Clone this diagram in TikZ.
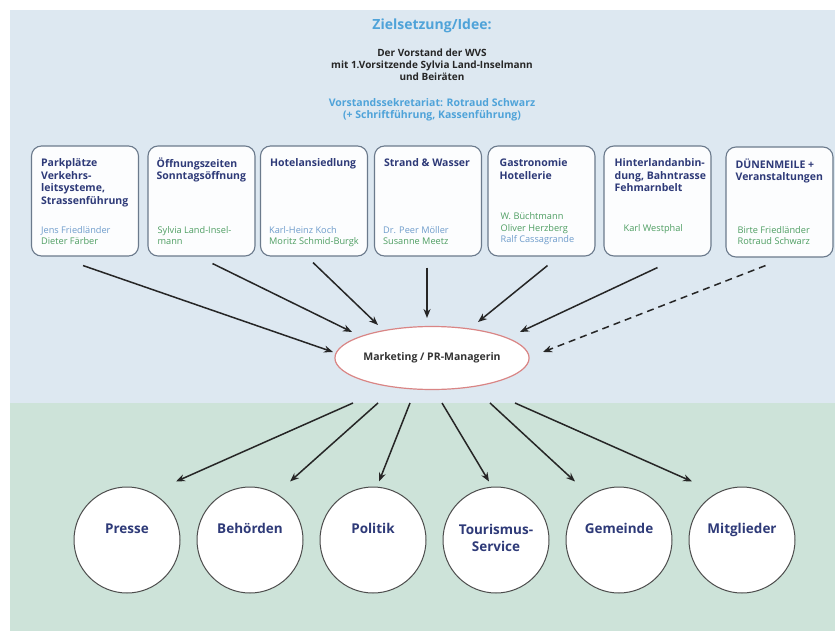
\documentclass[tikz,border=0pt]{standalone}
\usepackage{fontspec}
\setmainfont{Open Sans}
\usepackage{tikz}
\usetikzlibrary{
    arrows.meta,
    shapes.geometric,
    positioning
}

\definecolor{himmel}{HTML}{DDE8F1}
\definecolor{wiese}{HTML}{CDE3D9}
\definecolor{tinte}{HTML}{2E3A78}
\definecolor{hellblau}{HTML}{4FA3D9}
\definecolor{namblau}{HTML}{6E9CCB}
\definecolor{namgruen}{HTML}{4E9E62}
\definecolor{rahmen}{HTML}{6B7A8C}
\definecolor{rosa}{HTML}{D98585}

\tikzset{
    feld/.style={draw=rahmen, line width=1.1pt, rounded corners=10pt, fill=white!92!himmel, minimum width=107pt, minimum height=110pt},
    kopf/.style={anchor=north west, align=left, inner sep=0pt, font=\fontsize{10.5}{12.5}\selectfont\bfseries, text=tinte},
    namen/.style={anchor=base west, align=left, inner sep=0pt, font=\fontsize{9.2}{11.5}\selectfont},
    ziel/.style={circle, draw=black!70, line width=1pt, fill=white, minimum size=106pt, inner sep=0pt, font=\fontsize{13.5}{17}\selectfont\bfseries, text=tinte, text height=9pt, text depth=22.6pt},
    pfeil/.style={draw=black!85, line width=1.5pt, -{Stealth[length=9pt,width=7pt]}}
}

\begin{document}
\begin{tikzpicture}[x=1pt,y=-1pt]
                        \useasboundingbox (0, 0) rectangle (835, 631);
                        \fill[himmel] (10, 10) rectangle (835, 403);
                        \fill[wiese] (10, 403) rectangle (835, 631);

                        \node[font=\fontsize{14}{16}\selectfont\bfseries, text=hellblau] (titel) at (432, 26) {Zielsetzung/Idee:};
                        \node[align=center, font=\fontsize{10}{12}\selectfont\bfseries, text=black!85] (vorstand) at (432, 65)
                        {Der Vorstand der WVS\\mit 1.Vorsitzende Sylvia Land-Inselmann\\und Beiräten};
                        \node[align=center, font=\fontsize{10.5}{12}\selectfont\bfseries, text=hellblau] (sekretariat) at (432, 110)
                        {Vorstandssekretariat: Rotraud Schwarz\\(+ Schriftführung, Kassenführung)};

                        \node[feld] (b1) at (85, 201) {};
                        \node[feld] (b2) at (201.5, 201) {};
                        \node[feld] (b3) at (314, 201) {};
                        \node[feld] (b4) at (428, 201) {};
                        \node[feld] (b5) at (541.5, 201) {};
                        \node[feld] (b6) at (657.5, 201) {};
                        \node[feld] (b7) at (779.5, 202) {};

                        \node[kopf] (k1) at ([xshift=10pt, yshift=-13pt]b1.north west) {Parkplätze\\Verkehrs-\\leitsysteme,\\Strassenführung};
                        \node[kopf] (k2) at ([xshift=9pt, yshift=-12pt]b2.north west) {Öffnungszeiten\\Sonntagsöffnung};
                        \node[kopf] (k3) at ([xshift=10pt, yshift=-13pt]b3.north west) {Hotelansiedlung};
                        \node[kopf] (k4) at ([xshift=10pt, yshift=-13pt]b4.north west) {Strand \& Wasser};
                        \node[kopf] (k5) at ([xshift=12pt, yshift=-13pt]b5.north west) {Gastronomie\\Hotellerie};
                        \node[kopf] (k6) at ([xshift=11pt, yshift=-13pt]b6.north west) {Hinterlandanbin-\\dung, Bahntrasse\\Fehmarnbelt};
                        \node[kopf] (k7) at ([xshift=10pt, yshift=-12pt]b7.north west) {DÜNENMEILE +\\Veranstaltungen};

                        \node[namen] (n1) at ([xshift=10pt, yshift=12pt]b1.south west)
                        {\textcolor{namblau}{Jens Friedländer}\\\textcolor{namgruen}{Dieter Färber}};
                        \node[namen, text=namgruen] (n2) at ([xshift=10pt, yshift=12pt]b2.south west) {Sylvia Land-Insel-\\mann};
                        \node[namen] (n3) at ([xshift=9pt, yshift=12pt]b3.south west)
                        {\textcolor{namblau}{Karl-Heinz Koch}\\\textcolor{namgruen}{Moritz Schmid-Burgk}};
                        \node[namen] (n4) at ([xshift=9pt, yshift=12pt]b4.south west)
                        {\textcolor{namblau}{Dr. Peer Möller}\\\textcolor{namgruen}{Susanne Meetz}};
                        \node[namen] (n5) at ([xshift=13pt, yshift=14pt]b5.south west)
                        {\textcolor{namgruen}{W. Büchtmann}\\\textcolor{namgruen}{Oliver Herzberg}\\\textcolor{namblau}{Ralf Cassagrande}};
                        \node[namen, text=namgruen] (n6) at ([xshift=20pt, yshift=25pt]b6.south west) {Karl Westphal};
                        \node[namen, text=namgruen] (n7) at ([xshift=12pt, yshift=13pt]b7.south west) {Birte Friedländer\\Rotraud Schwarz};

                        \node[ellipse, draw=rosa, line width=1.2pt, fill=white, minimum width=171pt, minimum height=63pt, inner sep=0pt,
                        font=\fontsize{10.5}{12}\selectfont\bfseries, text=black!80] (mk) at (432, 358) {Marketing / PR-Managerin};

                        \node[ziel] (c1) at (127, 540) {Presse};
                        \node[ziel] (c2) at (250, 540) {Behörden};
                        \node[ziel] (c3) at (373, 540) {Politik};
                        \node[ziel, align=center, text height=22pt, text depth=0pt] (c4) at (496, 540) {Tourismus-\\Service};
                        \node[ziel] (c5) at (619, 540) {Gemeinde};
                        \node[ziel] (c6) at (742, 540) {Mitglieder};

                        % in die Mitte
                        \draw[pfeil] ([xshift=-2pt, yshift=-9pt]b1.south) -- ([xshift=-99pt, yshift=6pt]mk.center);
                        \draw[pfeil] ([xshift=11pt, yshift=-7pt]b2.south) -- ([xshift=-80pt, yshift=26pt]mk.center);
                        \draw[pfeil] ([xshift=-1pt, yshift=-6pt]b3.south) -- ([xshift=-54pt, yshift=33pt]mk.center);
                        \draw[pfeil] ([xshift=-1pt, yshift=-11pt]b4.south) -- ([xshift=-5pt, yshift=40pt]mk.center);
                        \draw[pfeil] ([xshift=6pt, yshift=-9pt]b5.south) -- ([xshift=46pt, yshift=36pt]mk.center);
                        \draw[pfeil] ([yshift=-11pt]b6.south) -- ([xshift=88pt, yshift=26pt]mk.center);
                        \draw[pfeil, dash pattern=on 7pt off 5pt] ([xshift=-14pt, yshift=-8pt]b7.south) -- ([xshift=111pt, yshift=6pt]mk.center);

                        % nach unten
                        \draw[pfeil] ([xshift=-79pt, yshift=-45pt]mk.center) -- ([xshift=49pt, yshift=5pt]c1.north);
                        \draw[pfeil] ([xshift=-54pt, yshift=-45pt]mk.center) -- ([xshift=40pt, yshift=5pt]c2.north);
                        \draw[pfeil] ([xshift=-22pt, yshift=-45pt]mk.center) -- ([xshift=6pt, yshift=5pt]c3.north);
                        \draw[pfeil] ([xshift=10pt, yshift=-45pt]mk.center) -- ([xshift=-7pt, yshift=5pt]c4.north);
                        \draw[pfeil] ([xshift=58pt, yshift=-45pt]mk.center) -- ([xshift=-44pt, yshift=5pt]c5.north);
                        \draw[pfeil] ([xshift=83pt, yshift=-45pt]mk.center) -- ([xshift=-50pt, yshift=5pt]c6.north);
                    \end{tikzpicture}
\end{document}
